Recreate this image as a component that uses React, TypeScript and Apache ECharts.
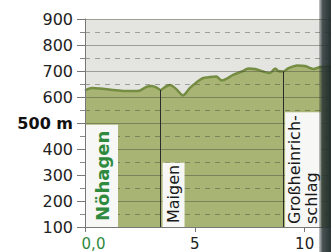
import React, { useEffect, useRef } from "react";
import * as echarts from "echarts";

// Elevation profile (km, metres)
const distKm = [0, 0.31, 0.68, 1.28, 1.82, 2.41, 2.82, 3.05, 3.28, 3.44, 3.64, 3.87, 4.15, 4.46, 4.78, 5.1, 5.38, 5.69, 5.97, 6.24, 6.51, 6.74, 7.2, 7.43, 7.74, 8.11, 8.43, 8.66, 8.79, 9.02, 9.25, 9.66, 10.02, 10.39, 10.71, 11.2];
const elevM = [625, 635, 633, 627, 623, 623, 640, 642, 635, 627, 638, 646, 631, 606, 635, 658, 673, 677, 679, 663, 673, 685, 700, 710, 708, 698, 692, 710, 700, 698, 710, 721, 719, 708, 715, 717];

// Places along the route
const placeNames = ["Nöhagen", "Maigen", "Großheinrich-\nschlag"];
const placeKm = [0, 3.44, 9.02];
const placeElev = [625, 627, 698];

// Axis ticks
const yMin = 100;
const yMax = 900;
const yStep = 100;
const xTickStep = 5;
const xMax = 11.2;

export default function App() {
  const ref = useRef<HTMLDivElement>(null);
  useEffect(() => {
    document.body.style.margin = "0";
    const chart = echarts.init(ref.current!, undefined, { renderer: "svg" });
    const font = "DejaVu Sans";
    const gridColor = "rgba(70,72,60,0.45)";
    chart.setOption({
      animation: false,
      backgroundColor: "#ffffff",
      grid: {
        left: 85,
        top: 19,
        right: 0,
        bottom: 25,
        show: true,
        backgroundColor: "#e4e5e1",
        borderWidth: 0,
      },
      xAxis: {
        type: "value",
        min: 0,
        max: xMax,
        interval: xTickStep,
        z: 3,
        axisLine: { show: true, lineStyle: { color: "#777", width: 1 } },
        axisTick: { show: true, length: 5, lineStyle: { color: "#777" } },
        splitLine: { show: false },
        axisLabel: {
          showMaxLabel: false,
          margin: 9,
          fontFamily: font,
          fontSize: 15,
          color: "#222",
          formatter: (v: number) => (v === 0 ? "{g|0,0}" : String(v)),
          rich: {
            g: { color: "#2f8a3e", fontFamily: font, fontSize: 15, padding: [0, 0, 0, 17] },
          },
        },
      },
      yAxis: {
        type: "value",
        min: yMin,
        max: yMax,
        interval: yStep,
        z: 3,
        axisLine: { show: true, lineStyle: { color: "#777", width: 1 } },
        axisTick: { show: true, length: 8, lineStyle: { color: "#777" } },
        minorTick: { show: true, splitNumber: 2, length: 5, lineStyle: { color: "#888" } },
        splitLine: { show: true, lineStyle: { color: gridColor, width: 1 } },
        minorSplitLine: { show: true, lineStyle: { color: gridColor, width: 1, type: [5, 5] } },
        axisLabel: {
          margin: 12,
          fontFamily: font,
          fontSize: 16,
          color: "#222",
          formatter: (v: number) => (v === 500 ? "{b|500 m}" : String(v)),
          rich: {
            b: { fontFamily: font, fontSize: 16, fontWeight: "bold", color: "#111" },
          },
        },
      },
      series: [
        {
          type: "line",
          data: distKm.map((d, i) => [d, elevM[i]]),
          smooth: 0.3,
          symbol: "none",
          z: 2,
          lineStyle: { color: "#758d42", width: 2.5 },
          areaStyle: { color: "#a8b473", opacity: 1, origin: "start" },
          markLine: {
            silent: true,
            symbol: "none",
            z: 4,
            label: { show: false },
            lineStyle: { color: "#2a2a2a", width: 1, type: "solid" },
            data: placeKm.slice(1).map((k, i) => [
              { coord: [k, yMin] },
              { coord: [k, placeElev[i + 1]] },
            ]),
          },
        },
        {
          type: "custom",
          z: 10,
          silent: true,
          data: placeKm.map((k) => [k, yMin]),
          renderItem: (params: any, api: any) => {
            const i = params.dataIndex;
            const p = api.coord([api.value(0), api.value(1)]);
            const isStart = i === 0;
            const isTwoLine = i === 2;
            return {
              type: "text",
              x: p[0] + (isStart ? 1 : 2),
              y: p[1],
              rotation: Math.PI / 2,
              style: {
                text: placeNames[i],
                fontFamily: font,
                fontSize: isStart ? 18 : 16,
                fontWeight: isStart ? "bold" : "normal",
                fill: isStart ? "#2f8a3e" : "#1a1a1a",
                align: "left",
                verticalAlign: "top",
                lineHeight: isTwoLine ? 17 : 20,
                backgroundColor: "#f7f7f5",
                padding: isStart ? [6, 6, 6, 6] : isTwoLine ? [1, 3, 1, 3] : [1, 2, 1, 4],
              },
            };
          },
        },
      ],
      graphic: [
        {
          type: "rect",
          right: 0,
          top: 0,
          z: 20,
          silent: true,
          shape: { width: 12, height: 252 },
          style: {
            fill: new echarts.graphic.LinearGradient(0, 0, 1, 0, [
              { offset: 0, color: "rgba(40,52,52,0.25)" },
              { offset: 0.3, color: "rgba(40,52,52,0.85)" },
              { offset: 1, color: "rgba(30,40,40,0.95)" },
            ]),
          },
        },
      ],
    });
    return () => chart.dispose();
  }, []);
  return <div ref={ref} style={{ width: 331, height: 252 }} />;
}
